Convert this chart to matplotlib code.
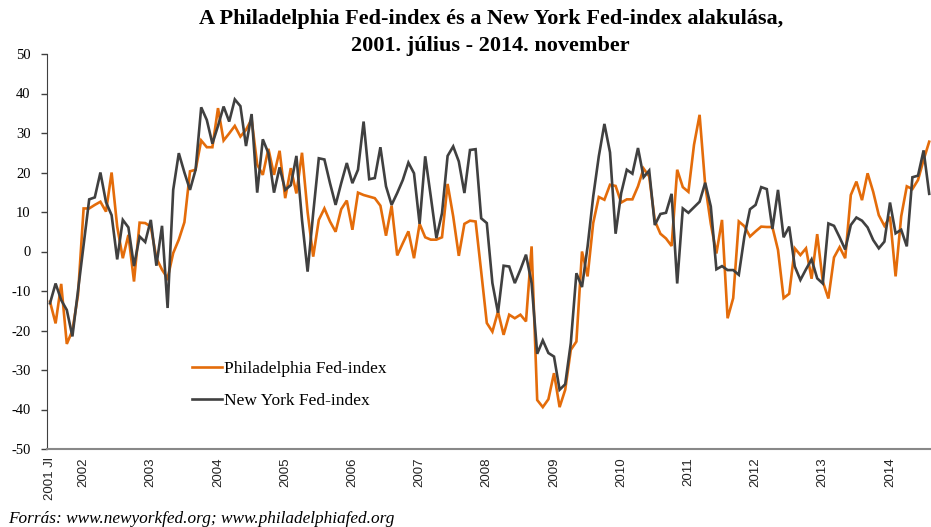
import matplotlib.pyplot as plt
import numpy as np

plt.rcParams["axes.unicode_minus"] = False

# monthly values, 2001 July .. 2014 August (rest of the series lies past the right edge)
philly = [-12.7, -18.2, -8.2, -23.4, -20.0, -11.0, 10.9, 10.9, 11.8, 12.6, 10.1, 20.0,
          6.3, -1.7, 4.2, -7.6, 7.3, 7.2, 6.3, -1.7, -4.6, -6.8, -0.4, 3.0,
          7.4, 20.3, 20.7, 28.1, 26.4, 26.4, 36.3, 28.1, 29.9, 31.8, 29.1, 30.8,
          33.5, 22.0, 19.4, 26.0, 19.4, 25.5, 13.5, 21.1, 14.7, 25.0, 10.0, -1.3,
          8.0, 10.9, 7.6, 5.0, 10.7, 12.9, 5.5, 14.9, 14.3, 13.9, 13.5, 11.6,
          4.0, 11.6, -1.0, 2.1, 5.1, -1.7, 7.0, 3.6, 3.0, 3.0, 3.6, 17.1,
          8.9, -1.1, 7.0, 7.8, 7.6, -5.1, -18.1, -20.3, -15.2, -21.1, -16.0, -16.9,
          -16.0, -17.7, 1.3, -37.6, -39.4, -37.4, -30.8, -39.4, -35.0, -24.9, -22.8, 0.0,
          -6.3, 7.2, 13.8, 13.1, 16.9, 16.6, 12.4, 13.2, 13.2, 16.5, 21.0, 19.0,
          7.8, 4.5, 3.3, 1.4, 20.7, 16.3, 15.1, 27.0, 34.6, 16.8, 7.0, -0.5,
          8.0, -16.9, -11.8, 7.6, 6.4, 3.8, 5.1, 6.3, 6.2, 6.2, 0.4, -11.8,
          -10.7, 0.8, -0.9, 0.8, -6.9, 4.4, -7.6, -11.9, -1.5, 1.1, -1.7, 14.3,
          17.7, 13.0, 19.8, 15.1, 9.2, 6.5, 8.8, -6.3, 8.9, 16.5, 15.8, 18.1,
          23.2, 27.8]

newyork = [-13.1, -8.1, -12.3, -14.8, -21.5, -10.0, 1.6, 13.2, 13.7, 20.0, 12.5, 9.2,
           -2.0, 8.0, 6.1, -3.7, 3.8, 2.4, 8.0, -3.6, 6.5, -14.3, 15.6, 24.9,
           20.0, 15.6, 20.7, 36.5, 33.3, 27.3, 31.8, 36.7, 32.9, 38.5, 36.8, 26.7,
           34.8, 14.9, 28.4, 24.9, 14.9, 21.3, 15.6, 16.8, 24.2, 8.0, -5.1, 9.7,
           23.6, 23.3, 17.3, 11.8, 17.3, 22.4, 17.3, 20.7, 32.9, 18.3, 18.6, 26.4,
           16.5, 11.8, 14.8, 18.1, 22.5, 19.8, 7.0, 24.1, 13.9, 3.4, 9.7, 24.2,
           26.6, 22.8, 14.8, 25.7, 25.9, 8.4, 7.2, -8.0, -15.5, -3.6, -3.8, -8.0,
           -4.6, -0.8, -8.0, -25.9, -22.5, -25.7, -26.6, -35.0, -33.6, -23.2, -5.5, -9.0,
           1.3, 13.9, 24.1, 32.3, 25.1, 4.5, 14.8, 20.7, 19.7, 26.2, 18.8, 20.5,
           6.7, 9.5, 9.8, 14.6, -8.1, 10.9, 9.8, 11.2, 12.6, 17.4, 11.4, -4.5,
           -3.7, -4.7, -4.7, -5.9, 3.8, 10.7, 11.8, 16.3, 15.8, 5.7, 15.6, 3.6,
           6.3, -3.8, -7.2, -4.5, -2.0, -6.8, -8.1, 7.1, 6.5, 3.6, 0.5, 6.7,
           8.6, 7.8, 6.1, 2.9, 0.8, 2.5, 12.4, 4.6, 5.5, 1.3, 18.8, 19.2,
           25.6, 14.6]

n_months = 161  # 2001 Jul .. 2014 Nov
tick_pos = [0] + [6 + 12 * k for k in range(13)]
tick_labels = ["2001 Jl"] + [str(y) for y in range(2002, 2015)]

orange = "#E46C0A"
dark = "#404040"

fig = plt.figure(figsize=(9.31, 5.27), dpi=100)
# axes run past the right edge of the image, like the cropped original
ax = fig.add_axes([47.2 / 931, 1 - 449 / 527, 5.6 * n_months / 931, 395 / 527])

x1 = np.arange(len(philly))
x2 = np.arange(len(newyork))
l1, = ax.plot(x1, philly, color=orange, lw=1.9, label="Philadelphia Fed-index", solid_joinstyle="miter")
l2, = ax.plot(x2, newyork, color=dark, lw=1.9, label="New York Fed-index", solid_joinstyle="miter")

ax.set_xlim(-0.5, n_months - 0.5)
ax.set_ylim(-50, 50)
ax.set_yticks(range(-50, 51, 10))
ax.set_xticks(tick_pos)
ax.set_xticklabels(tick_labels, rotation=90, family="Liberation Sans", fontsize=9.5, color="#222222")
ax.tick_params(axis="x", length=0, pad=6)
ax.tick_params(axis="y", length=4, width=1, color="#404040", direction="out", pad=8)
for lab in ax.get_yticklabels():
    lab.set_family("Liberation Serif")
    lab.set_fontsize(10.5)
ax.spines["top"].set_visible(False)
ax.spines["right"].set_visible(False)
ax.spines["left"].set_color("#404040")
ax.spines["bottom"].set_color("#888888")
ax.spines["bottom"].set_linewidth(1.5)

fig.legend(handles=[l1, l2], loc="upper left", bbox_to_anchor=(176 / 931, 1 - 345 / 527),
           frameon=False, prop={"family": "Liberation Serif", "size": 12.5},
           handlelength=1.75, handletextpad=0.1, labelspacing=0.95)

fig.text(0.527, 1 - 19 / 527, "A Philadelphia Fed-index és a New York Fed-index alakulása,",
         ha="center", va="center", family="Liberation Serif", weight="bold", fontsize=16)
fig.text(0.527, 1 - 46 / 527, "2001. július - 2014. november",
         ha="center", va="center", family="Liberation Serif", weight="bold", fontsize=16)
fig.text(8 / 931, 1 - 519 / 527, "Forrás: www.newyorkfed.org; www.philadelphiafed.org",
         ha="left", va="center", family="Liberation Serif", style="italic", fontsize=12.4)

fig.savefig("out.png", dpi=100)
